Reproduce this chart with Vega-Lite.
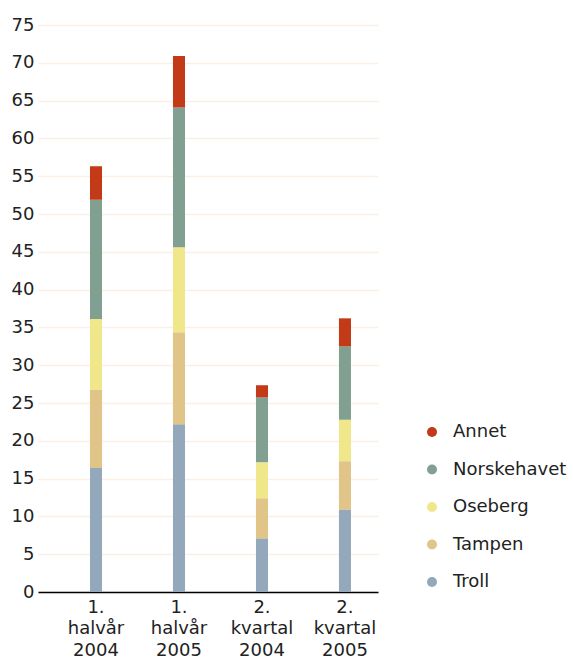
{
  "$schema": "https://vega.github.io/schema/vega-lite/v6.json",
  "autosize": "none",
  "width": 340,
  "height": 567,
  "padding": {"left": 38, "top": 25, "right": 195, "bottom": 68},
  "background": "white",
  "config": {
    "view": {"stroke": null},
    "font": "DejaVu Sans",
    "axis": {"labelFont": "DejaVu Sans", "labelFontSize": 18, "labelColor": "#222222", "ticks": false},
    "legend": {"labelFont": "DejaVu Sans", "labelFontSize": 18, "labelColor": "#222222"}
  },
  "data": {
    "values": [
      {"periode": "1. halvår 2004", "serie": "Troll", "verdi": 16.4},
      {"periode": "1. halvår 2004", "serie": "Tampen", "verdi": 10.4},
      {"periode": "1. halvår 2004", "serie": "Oseberg", "verdi": 9.3},
      {"periode": "1. halvår 2004", "serie": "Norskehavet", "verdi": 15.8},
      {"periode": "1. halvår 2004", "serie": "Annet", "verdi": 4.4},
      {"periode": "1. halvår 2005", "serie": "Troll", "verdi": 22.2},
      {"periode": "1. halvår 2005", "serie": "Tampen", "verdi": 12.15},
      {"periode": "1. halvår 2005", "serie": "Oseberg", "verdi": 11.25},
      {"periode": "1. halvår 2005", "serie": "Norskehavet", "verdi": 18.5},
      {"periode": "1. halvår 2005", "serie": "Annet", "verdi": 6.8},
      {"periode": "2. kvartal 2004", "serie": "Troll", "verdi": 7.1},
      {"periode": "2. kvartal 2004", "serie": "Tampen", "verdi": 5.3},
      {"periode": "2. kvartal 2004", "serie": "Oseberg", "verdi": 4.75},
      {"periode": "2. kvartal 2004", "serie": "Norskehavet", "verdi": 8.6},
      {"periode": "2. kvartal 2004", "serie": "Annet", "verdi": 1.6},
      {"periode": "2. kvartal 2005", "serie": "Troll", "verdi": 10.9},
      {"periode": "2. kvartal 2005", "serie": "Tampen", "verdi": 6.4},
      {"periode": "2. kvartal 2005", "serie": "Oseberg", "verdi": 5.5},
      {"periode": "2. kvartal 2005", "serie": "Norskehavet", "verdi": 9.7},
      {"periode": "2. kvartal 2005", "serie": "Annet", "verdi": 3.7}
    ]
  },
  "mark": {"type": "bar"},
  "encoding": {
    "x": {
      "field": "periode",
      "type": "nominal",
      "sort": null,
      "title": null,
      "scale": {"paddingInner": 0.855, "paddingOuter": 0.476, "align": 0.658},
      "axis": {
        "labelAngle": 0,
        "labelExpr": "split(datum.label, ' ')",
        "labelLineHeight": 21.5,
        "labelPadding": 6,
        "domainColor": "#000000",
        "domainWidth": 1.5,
        "grid": false
      }
    },
    "y": {
      "field": "verdi",
      "type": "quantitative",
      "aggregate": "sum",
      "stack": "zero",
      "title": null,
      "scale": {"domain": [0, 75], "nice": false},
      "axis": {
        "values": [0, 5, 10, 15, 20, 25, 30, 35, 40, 45, 50, 55, 60, 65, 70, 75],
        "domain": false,
        "gridColor": "#faf0e6",
        "gridWidth": 1.5,
        "labelPadding": 4
      }
    },
    "color": {
      "field": "serie",
      "type": "nominal",
      "title": null,
      "scale": {
        "domain": ["Annet", "Norskehavet", "Oseberg", "Tampen", "Troll"],
        "range": ["#c23a17", "#82a091", "#efe78a", "#e0c488", "#94a8bc"]
      },
      "legend": {
        "orient": "none",
        "legendX": 385,
        "legendY": 398,
        "symbolType": "circle",
        "symbolSize": 100,
        "symbolStrokeWidth": 0,
        "labelOffset": 12,
        "rowPadding": 19.5
      }
    },
    "order": {"field": "serie", "sort": "descending"}
  }
}
